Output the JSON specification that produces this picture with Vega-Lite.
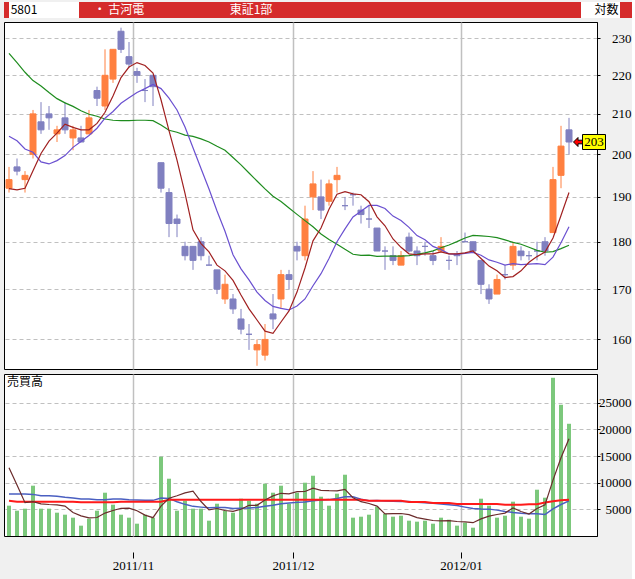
{
  "$schema": "https://vega.github.io/schema/vega-lite/v6.json",
  "background": "#f0f0f0",
  "padding": {"left": 3, "top": 2, "right": 0, "bottom": 8},
  "spacing": 3,
  "config": {
    "view": {"stroke": "#000000", "strokeWidth": 1, "fill": "#ffffff"},
    "text": {"font": "Noto Sans CJK JP", "fontSize": 12}
  },
  "datasets": {
    "ohlc": [
      {"i":0,"d":"2011-10-07","o":192,"h":197,"l":191,"c":194,"v":5690,"m5":191.9,"m10":204.4,"m25":225.9,"vm5":12810,"vm25":7875,"vm75":6600},
      {"i":1,"d":"2011-10-11","o":197,"h":199,"l":195,"c":196,"v":4750,"m5":191.6,"m10":203.3,"m25":223.4,"vm5":9560,"vm25":7875,"vm75":6450},
      {"i":2,"d":"2011-10-12","o":194,"h":196,"l":191,"c":195,"v":5125,"m5":192.0,"m10":201.3,"m25":220.8,"vm5":6250,"vm25":7875,"vm75":6450},
      {"i":3,"d":"2011-10-13","o":200,"h":211,"l":199,"c":210,"v":9440,"m5":196.1,"m10":200.5,"m25":218.6,"vm5":6440,"vm25":7810,"vm75":6450},
      {"i":4,"d":"2011-10-14","o":208,"h":213,"l":205,"c":206,"v":5125,"m5":200.2,"m10":198.2,"m25":217.2,"vm5":6026,"vm25":7560,"vm75":6450},
      {"i":5,"d":"2011-10-17","o":210,"h":212,"l":206,"c":209,"v":5125,"m5":203.2,"m10":197.7,"m25":215.5,"vm5":5913,"vm25":7560,"vm75":6450},
      {"i":6,"d":"2011-10-18","o":205,"h":207,"l":203,"c":206,"v":4375,"m5":205.2,"m10":198.5,"m25":213.9,"vm5":5838,"vm25":7440,"vm75":6450},
      {"i":7,"d":"2011-10-19","o":209,"h":213,"l":205,"c":206,"v":4000,"m5":207.4,"m10":199.7,"m25":212.8,"vm5":5613,"vm25":7250,"vm75":6450},
      {"i":8,"d":"2011-10-20","o":204,"h":207,"l":201,"c":206,"v":3440,"m5":206.6,"m10":201.7,"m25":211.9,"vm5":4413,"vm25":7125,"vm75":6450},
      {"i":9,"d":"2011-10-21","o":204,"h":207,"l":203,"c":203,"v":1940,"m5":206.0,"m10":203.1,"m25":210.8,"vm5":3776,"vm25":6940,"vm75":6350},
      {"i":10,"d":"2011-10-24","o":205,"h":211,"l":205,"c":209,"v":3250,"m5":206.0,"m10":204.6,"m25":209.9,"vm5":3401,"vm25":6940,"vm75":6350},
      {"i":11,"d":"2011-10-25","o":216,"h":217,"l":212,"c":214,"v":4750,"m5":207.6,"m10":206.4,"m25":209.4,"vm5":3476,"vm25":6810,"vm75":6350},
      {"i":12,"d":"2011-10-26","o":212,"h":227,"l":211,"c":220,"v":8125,"m5":210.4,"m10":208.9,"m25":208.7,"vm5":4301,"vm25":6810,"vm75":6350},
      {"i":13,"d":"2011-10-27","o":219,"h":227,"l":218,"c":227,"v":5875,"m5":214.6,"m10":210.6,"m25":208.4,"vm5":4788,"vm25":6940,"vm75":6350},
      {"i":14,"d":"2011-10-28","o":232,"h":233,"l":226,"c":227,"v":4000,"m5":219.4,"m10":212.7,"m25":208.3,"vm5":5200,"vm25":6940,"vm75":6450},
      {"i":15,"d":"2011-10-31","o":225,"h":229,"l":222,"c":223,"v":3440,"m5":222.2,"m10":214.1,"m25":208.3,"vm5":5238,"vm25":6810,"vm75":6450},
      {"i":16,"d":"2011-11-01","o":221,"h":222,"l":218,"c":220,"v":2310,"m5":223.4,"m10":215.5,"m25":208.4,"vm5":4750,"vm25":6750,"vm75":6450},
      {"i":17,"d":"2011-11-02","o":216,"h":219,"l":213,"c":216,"v":4000,"m5":222.6,"m10":216.5,"m25":208.4,"vm5":3925,"vm25":6690,"vm75":6450},
      {"i":18,"d":"2011-11-04","o":220,"h":220,"l":212,"c":217,"v":3440,"m5":220.6,"m10":217.6,"m25":208.3,"vm5":3438,"vm25":6690,"vm75":6450},
      {"i":19,"d":"2011-11-07","o":198,"h":198,"l":191,"c":192,"v":14875,"m5":213.6,"m10":216.5,"m25":207.2,"vm5":5613,"vm25":7125,"vm75":6450},
      {"i":20,"d":"2011-11-08","o":191,"h":192,"l":181,"c":184,"v":10750,"m5":205.8,"m10":214.0,"m25":205.9,"vm5":7075,"vm25":7060,"vm75":6800},
      {"i":21,"d":"2011-11-09","o":185,"h":186,"l":181,"c":184,"v":4750,"m5":198.6,"m10":211.0,"m25":205.4,"vm5":7563,"vm25":6440,"vm75":6800},
      {"i":22,"d":"2011-11-10","o":179,"h":180,"l":176,"c":177,"v":6625,"m5":190.8,"m10":206.7,"m25":204.7,"vm5":8088,"vm25":5940,"vm75":6800},
      {"i":23,"d":"2011-11-11","o":179,"h":179,"l":174,"c":176,"v":5125,"m5":182.6,"m10":201.6,"m25":204.4,"vm5":8425,"vm25":5560,"vm75":6800},
      {"i":24,"d":"2011-11-14","o":180,"h":181,"l":176,"c":177,"v":5125,"m5":179.6,"m10":196.6,"m25":203.76,"vm5":6475,"vm25":5418,"vm75":6800},
      {"i":25,"d":"2011-11-15","o":175,"h":177,"l":175,"c":175,"v":2875,"m5":177.8,"m10":191.8,"m25":203.0,"vm5":4900,"vm25":5305,"vm75":6800},
      {"i":26,"d":"2011-11-16","o":174,"h":174,"l":169,"c":170,"v":6060,"m5":175.0,"m10":186.8,"m25":201.96,"vm5":5162,"vm25":5358,"vm75":6800},
      {"i":27,"d":"2011-11-17","o":168,"h":173,"l":167,"c":171,"v":4750,"m5":173.8,"m10":182.3,"m25":201.0,"vm5":4787,"vm25":5343,"vm75":6800},
      {"i":28,"d":"2011-11-18","o":168,"h":169,"l":165,"c":166,"v":4375,"m5":171.8,"m10":177.2,"m25":199.24,"vm5":4637,"vm25":5140,"vm75":6800},
      {"i":29,"d":"2011-11-21","o":164,"h":166,"l":161,"c":162,"v":7000,"m5":168.8,"m10":174.2,"m25":197.48,"vm5":5012,"vm25":5215,"vm75":6800},
      {"i":30,"d":"2011-11-22","o":161,"h":163,"l":158,"c":161,"v":6625,"m5":166.0,"m10":171.9,"m25":195.56,"vm5":5762,"vm25":5275,"vm75":6800},
      {"i":31,"d":"2011-11-24","o":158,"h":160,"l":155,"c":159,"v":6060,"m5":163.8,"m10":169.4,"m25":193.68,"vm5":5762,"vm25":5343,"vm75":6800},
      {"i":32,"d":"2011-11-25","o":157,"h":163,"l":156,"c":160,"v":9810,"m5":161.6,"m10":167.7,"m25":191.84,"vm5":6774,"vm25":5575,"vm75":6800},
      {"i":33,"d":"2011-11-28","o":165,"h":169,"l":162,"c":164,"v":8125,"m5":161.2,"m10":166.5,"m25":190.16,"vm5":7524,"vm25":5762,"vm75":6800},
      {"i":34,"d":"2011-11-29","o":168,"h":174,"l":166,"c":173,"v":9440,"m5":163.4,"m10":166.1,"m25":188.96,"vm5":8012,"vm25":6062,"vm75":6800},
      {"i":35,"d":"2011-11-30","o":173,"h":174,"l":170,"c":172,"v":6060,"m5":165.6,"m10":165.8,"m25":187.48,"vm5":7899,"vm25":6175,"vm75":6800},
      {"i":36,"d":"2011-12-01","o":179,"h":180,"l":176,"c":178,"v":8125,"m5":169.4,"m10":166.6,"m25":186.04,"vm5":8312,"vm25":6310,"vm75":6800},
      {"i":37,"d":"2011-12-02","o":177,"h":188,"l":176,"c":185,"v":10000,"m5":174.4,"m10":168.0,"m25":184.64,"vm5":8350,"vm25":6385,"vm75":6800},
      {"i":38,"d":"2011-12-05","o":190,"h":196,"l":187,"c":193,"v":11310,"m5":180.2,"m10":170.7,"m25":183.28,"vm5":8987,"vm25":6602,"vm75":6800},
      {"i":39,"d":"2011-12-06","o":190,"h":194,"l":185,"c":187,"v":7375,"m5":183.0,"m10":173.2,"m25":181.68,"vm5":8574,"vm25":6737,"vm75":6800},
      {"i":40,"d":"2011-12-07","o":189,"h":194,"l":188,"c":193,"v":5690,"m5":187.2,"m10":176.4,"m25":180.48,"vm5":8500,"vm25":6827,"vm75":6800},
      {"i":41,"d":"2011-12-08","o":194,"h":197,"l":191,"c":195,"v":7940,"m5":190.6,"m10":180.0,"m25":179.48,"vm5":8463,"vm25":7052,"vm75":6800},
      {"i":42,"d":"2011-12-09","o":188,"h":190,"l":187,"c":188,"v":11500,"m5":191.2,"m10":182.8,"m25":178.36,"vm5":8763,"vm25":7352,"vm75":6800},
      {"i":43,"d":"2011-12-12","o":190.5,"h":191,"l":188,"c":190.5,"v":3440,"m5":190.7,"m10":185.45,"m25":177.3,"vm5":7189,"vm25":7352,"vm75":6800},
      {"i":44,"d":"2011-12-13","o":187,"h":188,"l":184,"c":186,"v":3625,"m5":190.5,"m10":186.75,"m25":177.06,"vm5":6439,"vm25":6902,"vm75":6800},
      {"i":45,"d":"2011-12-14","o":185,"h":188,"l":183,"c":185,"v":4000,"m5":188.9,"m10":188.05,"m25":177.1,"vm5":6101,"vm25":6632,"vm75":6600},
      {"i":46,"d":"2011-12-15","o":183,"h":183,"l":178,"c":178,"v":5500,"m5":185.5,"m10":188.05,"m25":176.86,"vm5":5613,"vm25":6662,"vm75":6600},
      {"i":47,"d":"2011-12-16","o":178,"h":179,"l":174,"c":178,"v":4190,"m5":183.5,"m10":187.35,"m25":176.9,"vm5":4151,"vm25":6565,"vm75":6600},
      {"i":48,"d":"2011-12-19","o":177,"h":179,"l":175,"c":176,"v":3625,"m5":180.6,"m10":185.65,"m25":176.9,"vm5":4188,"vm25":6505,"vm75":6600},
      {"i":49,"d":"2011-12-20","o":175,"h":178,"l":175,"c":177,"v":3810,"m5":178.8,"m10":184.65,"m25":176.9,"vm5":4225,"vm25":6452,"vm75":6600},
      {"i":50,"d":"2011-12-21","o":181,"h":182,"l":177.7,"c":178,"v":2875,"m5":177.4,"m10":183.15,"m25":177.02,"vm5":4000,"vm25":6452,"vm75":6400},
      {"i":51,"d":"2011-12-22","o":178,"h":179,"l":175,"c":177,"v":2690,"m5":177.2,"m10":181.35,"m25":177.3,"vm5":3438,"vm25":6318,"vm75":6400},
      {"i":52,"d":"2011-12-26","o":179,"h":180,"l":177,"c":179,"v":2875,"m5":177.4,"m10":180.45,"m25":177.62,"vm5":3175,"vm25":6243,"vm75":6400},
      {"i":53,"d":"2011-12-27","o":177,"h":178,"l":175,"c":176,"v":2310,"m5":177.4,"m10":179.0,"m25":178.02,"vm5":2912,"vm25":6160,"vm75":6200},
      {"i":54,"d":"2011-12-28","o":178,"h":181,"l":177.7,"c":179,"v":3440,"m5":177.8,"m10":178.3,"m25":178.7,"vm5":2838,"vm25":6018,"vm75":6200},
      {"i":55,"d":"2011-12-29","o":176,"h":177,"l":174,"c":176,"v":3060,"m5":177.4,"m10":177.4,"m25":179.3,"vm5":2875,"vm25":5875,"vm75":6200},
      {"i":56,"d":"2011-12-30","o":177.3,"h":178,"l":175,"c":177,"v":1940,"m5":177.4,"m10":177.3,"m25":180.02,"vm5":2725,"vm25":5710,"vm75":6000},
      {"i":57,"d":"2012-01-04","o":180,"h":182,"l":180,"c":180,"v":2500,"m5":177.6,"m10":177.5,"m25":180.82,"vm5":2650,"vm25":5418,"vm75":6000},
      {"i":58,"d":"2012-01-05","o":180,"h":180,"l":178,"c":178,"v":1560,"m5":178.0,"m10":177.7,"m25":181.38,"vm5":2500,"vm25":5155,"vm75":6000},
      {"i":59,"d":"2012-01-06","o":176,"h":176,"l":169,"c":171,"v":7000,"m5":176.4,"m10":177.1,"m25":181.3,"vm5":3212,"vm25":5058,"vm75":6000},
      {"i":60,"d":"2012-01-10","o":170,"h":171,"l":167,"c":168,"v":5690,"m5":174.8,"m10":176.1,"m25":181.14,"vm5":3738,"vm25":5043,"vm75":6000},
      {"i":61,"d":"2012-01-11","o":169,"h":173,"l":169,"c":172,"v":3440,"m5":173.8,"m10":175.6,"m25":180.9,"vm5":4038,"vm25":4855,"vm75":6000},
      {"i":62,"d":"2012-01-12","o":173,"h":175,"l":172,"c":173,"v":3810,"m5":172.4,"m10":175.0,"m25":180.42,"vm5":4300,"vm25":4608,"vm75":5850},
      {"i":63,"d":"2012-01-13","o":175,"h":180,"l":174,"c":179,"v":6440,"m5":172.6,"m10":175.3,"m25":179.86,"vm5":5276,"vm25":4413,"vm75":5850},
      {"i":64,"d":"2012-01-16","o":178,"h":179,"l":176,"c":177,"v":3625,"m5":173.8,"m10":175.1,"m25":179.46,"vm5":4601,"vm25":4263,"vm75":5850},
      {"i":65,"d":"2012-01-17","o":177,"h":178,"l":176,"c":177,"v":3250,"m5":175.6,"m10":175.2,"m25":178.82,"vm5":4113,"vm25":4165,"vm75":5950},
      {"i":66,"d":"2012-01-18","o":178,"h":180,"l":176,"c":178,"v":8690,"m5":176.8,"m10":175.3,"m25":178.14,"vm5":5163,"vm25":4195,"vm75":5950},
      {"i":67,"d":"2012-01-19","o":180,"h":181,"l":177,"c":178,"v":7190,"m5":177.8,"m10":175.1,"m25":177.74,"vm5":5839,"vm25":4023,"vm75":6300},
      {"i":68,"d":"2012-01-20","o":182,"h":197,"l":182,"c":194,"v":29690,"m5":180.8,"m10":176.7,"m25":177.88,"vm5":10489,"vm25":5073,"vm75":6500},
      {"i":69,"d":"2012-01-23","o":195,"h":207,"l":192,"c":202,"v":24625,"m5":185.8,"m10":179.8,"m25":178.52,"vm5":14689,"vm25":5913,"vm75":6700},
      {"i":70,"d":"2012-01-24","o":206,"h":209,"l":200,"c":203,"v":21060,"m5":191.0,"m10":183.3,"m25":179.24,"vm5":18251,"vm25":6595,"vm75":6800}
    ]
  },
  "vconcat": [
    {
      "hconcat": [
        {"width": 5, "height": 16, "view": {"fill": "#d52b2b", "stroke": null}, "data": {"values": [{"t": ""}]}, "mark": {"type": "text"}, "encoding": {"text": {"field": "t"}}},
        {"width": 30, "height": 16, "view": {"fill": "#ffffff", "stroke": null}, "data": {"values": [{"t": "5801"}]}, "mark": {"type": "text", "color": "#000000"}, "encoding": {"text": {"field": "t"}}},
        {"width": 40, "height": 16, "view": {"fill": "#ffffff", "stroke": null}, "data": {"values": [{"t": ""}]}, "mark": {"type": "text"}, "encoding": {"text": {"field": "t"}}},
        {"width": 80, "height": 16, "view": {"fill": "#d52b2b", "stroke": null}, "data": {"values": [{"t": "・ 古河電"}]}, "mark": {"type": "text", "color": "#ffffff"}, "encoding": {"text": {"field": "t"}}},
        {"width": 184, "height": 16, "view": {"fill": "#d52b2b", "stroke": null}, "data": {"values": [{"t": "東証1部"}]}, "mark": {"type": "text", "color": "#ffffff"}, "encoding": {"text": {"field": "t"}}},
        {"width": 238, "height": 16, "view": {"fill": "#d52b2b", "stroke": null}, "data": {"values": [{"t": ""}]}, "mark": {"type": "text"}, "encoding": {"text": {"field": "t"}}},
        {"width": 12, "height": 16, "view": {"fill": "#ffffff", "stroke": null}, "data": {"values": [{"t": ""}]}, "mark": {"type": "text"}, "encoding": {"text": {"field": "t"}}},
        {"width": 27, "height": 16, "view": {"fill": "#ffffff", "stroke": null}, "data": {"values": [{"t": "対数"}]}, "mark": {"type": "text", "color": "#000000"}, "encoding": {"text": {"field": "t"}}},
        {"width": 12, "height": 16, "view": {"fill": "#d52b2b", "stroke": null}, "data": {"values": [{"t": ""}]}, "mark": {"type": "text"}, "encoding": {"text": {"field": "t"}}}
      ],
      "spacing": 0,
      "bounds": "flush"
    },
    {
      "width": 593,
      "height": 347,
      "data": {"name": "ohlc"},
      "encoding": {
        "x": {"field": "i", "type": "quantitative",
              "scale": {"domain": [-0.625, 73.5], "nice": false, "zero": false, "padding": 0},
              "axis": {"values": [15.5, 35.5, 56.5], "grid": true, "gridColor": "#c0c0c0", "gridWidth": 1.5, "labels": false, "ticks": false, "domain": false, "title": null}}
      },
      "layer": [
        {
          "mark": {"type": "rule", "strokeWidth": 1},
          "encoding": {
            "y": {"field": "l", "type": "quantitative",
                  "scale": {"type": "log", "domain": [154.4, 234.6], "nice": false},
                  "axis": {"orient": "right", "values": [160, 170, 180, 190, 200, 210, 220, 230], "grid": true, "gridDash": [4, 3], "gridColor": "#c0c0c0", "domainColor": "#000000", "tickColor": "#000000", "tickSize": 3, "labelAlign": "right", "labelBaseline": "middle", "labelPadding": 31, "labelFont": "Liberation Sans Narrow", "labelFontSize": 13, "labelColor": "#000000", "title": null}},
            "y2": {"field": "h"},
            "color": {"condition": {"test": "datum.c > datum.o", "value": "#ff8040"}, "value": "#8080c0"}
          }
        },
        {
          "mark": {"type": "bar", "size": 6, "strokeWidth": 1},
          "encoding": {
            "y": {"field": "o", "type": "quantitative", "title": null},
            "y2": {"field": "c"},
            "color": {"condition": {"test": "datum.c > datum.o", "value": "#ff8040"}, "value": "#8080c0"},
            "stroke": {"condition": {"test": "datum.c > datum.o", "value": "#ff8040"}, "value": "#8080c0"}
          }
        },
        {
          "mark": {"type": "line", "color": "#1e8c1e", "strokeWidth": 1.2},
          "encoding": {"y": {"field": "m25", "type": "quantitative", "title": null}}
        },
        {
          "mark": {"type": "line", "color": "#6a50d0", "strokeWidth": 1.2},
          "encoding": {"y": {"field": "m10", "type": "quantitative", "title": null}}
        },
        {
          "mark": {"type": "line", "color": "#a02020", "strokeWidth": 1.2},
          "encoding": {"y": {"field": "m5", "type": "quantitative", "title": null}}
        },
        {
          "transform": [{"filter": "datum.i == 70"}],
          "mark": {"type": "point", "shape": "M-1,0L0,-1V-0.4H1V0.4H0V1Z", "size": 81, "filled": true, "fill": "#ff0000", "stroke": "#000000", "strokeWidth": 1, "opacity": 1, "xOffset": 9},
          "encoding": {"y": {"field": "c", "type": "quantitative", "title": null}}
        },
        {
          "transform": [{"filter": "datum.i == 70"}],
          "mark": {"type": "point", "shape": "M-1,-0.652H1V0.652H-1Z", "size": 529, "filled": true, "fill": "#ffff00", "stroke": "#000000", "strokeWidth": 1, "opacity": 1, "xOffset": 25},
          "encoding": {"y": {"field": "c", "type": "quantitative", "title": null}}
        },
        {
          "transform": [{"filter": "datum.i == 70"}],
          "mark": {"type": "text", "xOffset": 25, "align": "center", "baseline": "middle", "font": "Liberation Sans Narrow", "fontSize": 13, "color": "#000000"},
          "encoding": {
            "y": {"field": "c", "type": "quantitative", "title": null},
            "text": {"field": "c", "type": "quantitative", "format": "d"}
          }
        }
      ]
    },
    {
      "width": 593,
      "height": 162,
      "title": {"text": "売買高", "anchor": "start", "orient": "top", "offset": -15, "dx": 3, "font": "Noto Sans CJK JP", "fontSize": 12, "fontWeight": "normal", "color": "#000000"},
      "data": {"name": "ohlc"},
      "encoding": {
        "x": {"field": "i", "type": "quantitative",
              "scale": {"domain": [-0.625, 73.5], "nice": false, "zero": false, "padding": 0},
              "axis": {"values": [15.5, 35.5, 56.5], "grid": true, "gridColor": "#c0c0c0", "gridWidth": 1.5, "labelExpr": "datum.value < 20 ? '2011/11' : datum.value < 40 ? '2011/12' : '2012/01'", "domain": false, "ticks": true, "tickSize": 6, "tickColor": "#000000", "offset": 16, "labelPadding": 1, "labelFont": "Liberation Sans Narrow", "labelFontSize": 13, "labelColor": "#000000", "title": null}}
      },
      "layer": [
        {
          "mark": {"type": "bar", "size": 4, "color": "#7cc87c"},
          "encoding": {
            "y": {"field": "v", "type": "quantitative", "scale": {"domain": [0, 30400], "nice": false},
                  "axis": {"orient": "right", "values": [5000, 10000, 15000, 20000, 25000], "format": "d", "grid": true, "gridDash": [4, 3], "gridColor": "#c0c0c0", "domainColor": "#000000", "tickColor": "#000000", "tickSize": 3, "labelAlign": "right", "labelBaseline": "middle", "labelPadding": 31, "labelFont": "Liberation Sans Narrow", "labelFontSize": 13, "labelColor": "#000000", "title": null}},
            "y2": {"datum": 0}
          }
        },
        {
          "mark": {"type": "line", "color": "#4a5fc1", "strokeWidth": 1.5},
          "encoding": {"y": {"field": "vm25", "type": "quantitative", "title": null}}
        },
        {
          "mark": {"type": "line", "color": "#ff1a1a", "strokeWidth": 2},
          "encoding": {"y": {"field": "vm75", "type": "quantitative", "title": null}}
        },
        {
          "mark": {"type": "line", "color": "#6b2c2c", "strokeWidth": 1.2},
          "encoding": {"y": {"field": "vm5", "type": "quantitative", "title": null}}
        }
      ]
    }
  ]
}
